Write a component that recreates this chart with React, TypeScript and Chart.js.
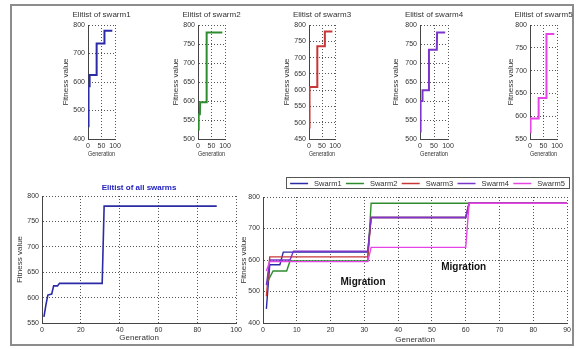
import React, { useEffect, useRef } from 'react';
import { Chart, registerables } from 'chart.js';
Chart.register(...registerables);

const FONT = "'Liberation Sans', Arial, sans-serif";

// ---- data (generation breakpoints, fitness values) ----
const swarmLabels = ['Swarm1', 'Swarm2', 'Swarm3', 'Swarm4', 'Swarm5'];
const swarmColors = ['#2b2ba6', '#2e8b2e', '#c83737', '#7b35c9', '#e545e5'];

const swarm1Gen = [1, 2, 5, 6, 31, 32, 60, 61, 90];
const swarm1Fit = [445, 585, 585, 625, 625, 735, 735, 780, 780];
const swarm2Gen = [1, 2, 3, 7, 8, 31, 32, 90];
const swarm2Fit = [525, 545, 565, 565, 597, 597, 780, 780];
const swarm3Gen = [1, 2, 31, 32, 60, 61, 90];
const swarm3Fit = [485, 610, 610, 735, 735, 780, 780];
const swarm4Gen = [1, 2, 8, 9, 31, 32, 60, 61, 90];
const swarm4Fit = [520, 600, 600, 628, 628, 735, 735, 780, 780];
const swarm5Gen = [1, 2, 31, 32, 60, 61, 90];
const swarm5Fit = [565, 595, 595, 640, 640, 780, 780];

const eliteGen = [1, 2, 3, 5, 6, 8, 9, 31, 32, 90];
const eliteFit = [562, 585, 605, 607, 623, 623, 628, 628, 780, 780];

const migrationText = ['Migration', 'Migration'];
const migrationGen = [29.6, 59.4];
const migrationFit = [530, 578];

const smallTitles = ['Elitist of swarm1', 'Elitist of swarm2', 'Elitist of swarm3', 'Elitist of swarm4', 'Elitist of swarm5'];
const smallYMin = [400, 500, 450, 500, 550];
const smallYStep = [100, 50, 50, 50, 50];

const allGen = [swarm1Gen, swarm2Gen, swarm3Gen, swarm4Gen, swarm5Gen];
const allFit = [swarm1Fit, swarm2Fit, swarm3Fit, swarm4Fit, swarm5Fit];

type Line = { label: string; gen: number[]; fit: number[]; color: string; width: number };
type PanelDef = {
  left: number; top: number; right: number; bottom: number;
  yAxisW: number; xAxisH: number; padTop: number; padRight: number;
  xMin: number; xMax: number; xStep: number;
  yMin: number; yMax: number; yStep: number;
  lines: Line[];
  title?: string; titleFont?: string; titleColor?: string; titleOffset?: number;
  legend?: boolean;
  notes?: boolean;
};

function Panel({ def }: { def: PanelDef }) {
  const ref = useRef<HTMLCanvasElement>(null);
  const w = def.right - def.left + def.yAxisW + def.padRight;
  const h = def.bottom - def.top + def.padTop + def.xAxisH;
  useEffect(() => {
    const deco = {
      id: 'deco',
      afterDraw(chart: any) {
        const { ctx, chartArea: a } = chart;
        ctx.save();
        if (def.title) {
          ctx.font = def.titleFont || `8px ${FONT}`;
          ctx.fillStyle = def.titleColor || '#333';
          ctx.textAlign = 'center';
          ctx.textBaseline = 'middle';
          ctx.fillText(def.title, (a.left + a.right) / 2, a.top - (def.titleOffset || 10));
        }
        if (def.notes) {
          ctx.font = `bold 10px ${FONT}`;
          ctx.fillStyle = '#111';
          ctx.textAlign = 'center';
          ctx.textBaseline = 'middle';
          const xs = chart.scales.x, ys = chart.scales.y;
          migrationText.forEach((t, i) => {
            ctx.fillText(t, xs.getPixelForValue(migrationGen[i]), ys.getPixelForValue(migrationFit[i]));
          });
        }
        if (def.legend) {
          const R = a.right + 2, T = a.top - 20, B = a.top - 9;
          const L = R - 283;
          ctx.fillStyle = '#fff';
          ctx.fillRect(L, T, R - L, B - T);
          ctx.strokeStyle = '#555';
          ctx.lineWidth = 1;
          ctx.strokeRect(Math.round(L) + 0.5, Math.round(T) + 0.5, Math.round(R - L), Math.round(B - T));
          const step = (R - L - 4) / 5;
          const cy = Math.round((T + B) / 2) + 0.5;
          ctx.font = `7.5px ${FONT}`;
          ctx.textAlign = 'left';
          ctx.textBaseline = 'middle';
          chart.data.datasets.forEach((ds: any, i: number) => {
            const x0 = L + 4 + i * step;
            ctx.strokeStyle = ds.borderColor;
            ctx.lineWidth = 1.5;
            ctx.beginPath();
            ctx.moveTo(x0, cy);
            ctx.lineTo(x0 + 18, cy);
            ctx.stroke();
            ctx.fillStyle = '#333';
            ctx.fillText(ds.label, x0 + 24, cy);
          });
        }
        ctx.restore();
      },
    };
    const tickFont = { family: FONT, size: 7 };
    const titleFont = { family: FONT, size: 8 };
    const n = def.lines.length;
    const chart = new Chart(ref.current as HTMLCanvasElement, {
      type: 'line',
      data: {
        datasets: def.lines.map((l, k) => ({
          label: l.label,
          data: l.gen.map((g, i) => ({ x: g, y: l.fit[i] })),
          borderColor: l.color,
          backgroundColor: l.color,
          borderWidth: l.width,
          pointRadius: 0,
          tension: 0,
          fill: false,
          order: n - k,
        })),
      },
      options: {
        animation: false,
        responsive: false,
        devicePixelRatio: 1,
        layout: { padding: { top: def.padTop, right: def.padRight, left: 0, bottom: 0 } },
        plugins: { legend: { display: false }, tooltip: { enabled: false }, title: { display: false } },
        scales: {
          x: {
            type: 'linear',
            min: def.xMin,
            max: def.xMax,
            afterFit: (s: any) => { s.height = def.xAxisH; },
            ticks: { stepSize: def.xStep, font: tickFont, color: '#333', padding: 3, maxRotation: 0, autoSkip: false },
            grid: { color: '#555', lineWidth: 1, drawTicks: false },
            border: { color: '#444', width: 1, dash: [1, 2] },
            title: { display: true, text: 'Generation', font: titleFont, color: '#333', padding: 0 },
          },
          y: {
            type: 'linear',
            min: def.yMin,
            max: def.yMax,
            afterFit: (s: any) => { s.width = def.yAxisW; },
            ticks: { stepSize: def.yStep, font: tickFont, color: '#333', padding: 3, autoSkip: false },
            grid: { color: '#555', lineWidth: 1, drawTicks: false },
            border: { color: '#444', width: 1, dash: [1, 2] },
            title: { display: true, text: 'Fitness value', font: titleFont, color: '#333', padding: 0 },
          },
        },
      } as any,
      plugins: [deco],
    });
    return () => chart.destroy();
  }, []);
  return (
    <canvas
      ref={ref}
      width={w}
      height={h}
      style={{ position: 'absolute', left: def.left - def.yAxisW, top: def.top - def.padTop, width: w, height: h }}
    />
  );
}

const smallLefts = [88, 198, 309, 420, 530];
const smallRights = [115, 225, 335, 448, 557];
const smallYAxisW = [27, 27, 27, 29, 24];

const panels: PanelDef[] = [
  ...smallTitles.map((t, i) => ({
    left: smallLefts[i], right: smallRights[i], top: 25, bottom: 139,
    yAxisW: smallYAxisW[i], xAxisH: 20, padTop: 20, padRight: 18,
    xMin: 0, xMax: 100, xStep: 50,
    yMin: smallYMin[i], yMax: 800, yStep: smallYStep[i],
    lines: [{ label: swarmLabels[i], gen: allGen[i], fit: allFit[i], color: swarmColors[i], width: 2 }],
    title: t, titleOffset: 10,
  })),
  {
    left: 42, right: 237, top: 196, bottom: 323,
    yAxisW: 27, xAxisH: 20, padTop: 16, padRight: 8,
    xMin: 0, xMax: 100, xStep: 20,
    yMin: 550, yMax: 800, yStep: 50,
    lines: [{ label: 'Elitist', gen: eliteGen, fit: eliteFit, color: swarmColors[0], width: 1.6 }],
    title: 'Elitist of all swarms', titleFont: `bold 8px ${FONT}`, titleColor: '#2323c0', titleOffset: 8,
  },
  {
    left: 263, right: 568, top: 197, bottom: 323,
    yAxisW: 24, xAxisH: 22, padTop: 24, padRight: 6,
    xMin: 0, xMax: 90, xStep: 10,
    yMin: 400, yMax: 800, yStep: 100,
    lines: swarmLabels.map((l, i) => ({ label: l, gen: allGen[i], fit: allFit[i], color: swarmColors[i], width: 1.4 })),
    legend: true,
    notes: true,
  },
];

export default function App() {
  return (
    <div style={{ position: 'absolute', left: 0, top: 0, width: 582, height: 349, background: '#fff', overflow: 'hidden' }}>
      <div
        style={{
          position: 'absolute', left: 10, top: 4, width: 564, height: 342,
          boxSizing: 'border-box', border: '2px solid #8c8c8c',
        }}
      />
      {panels.map((p, i) => (
        <Panel key={i} def={p} />
      ))}
    </div>
  );
}
